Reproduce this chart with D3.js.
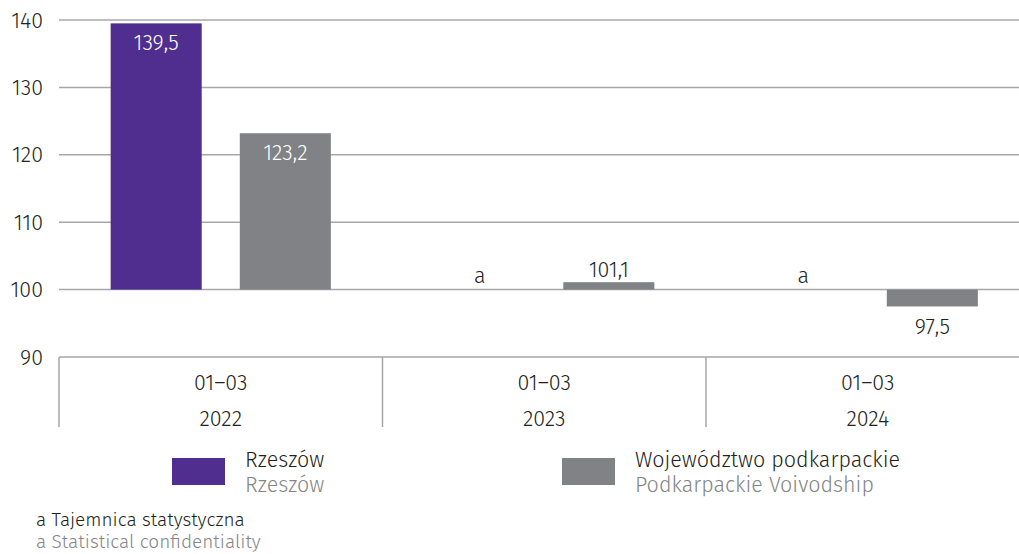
<!DOCTYPE html>
<html>
<head>
  <meta charset="utf-8">
  <script src="https://d3js.org/d3.v7.min.js"></script>
  <style>
    body { margin: 0; background: #fff; }
    svg text { font-family: "Fira Sans", Roboto, "Noto Sans", sans-serif; font-weight: 300; }
  </style>
</head>
<body>
  <script>
    const categories = ["2022", "2023", "2024"];
    const periods = ["01–03", "01–03", "01–03"];
    const seriesKeys = ["rzeszow", "podkarpackie"];
    const seriesNames = ["Rzeszów", "Województwo podkarpackie"];
    const seriesNamesEn = ["Rzeszów", "Podkarpackie Voivodship"];
    const rzeszow = [139.5, null, null];
    const podkarpackie = [123.2, 101.1, 97.5];
    const yTicks = [90, 100, 110, 120, 130, 140];
    const footnotePl = "a Tajemnica statystyczna";
    const footnoteEn = "a Statistical confidentiality";

    const colors = { rzeszow: "#502e8f", podkarpackie: "#808285" };
    const dark = "#231f20";
    const light = "#858585";
    const gridColor = "#a7a7a9";

    const width = 1019, height = 554;
    const baseValue = 100;
    const fs = "21.5px";

    const svg = d3.select("body").append("svg")
      .attr("width", width)
      .attr("height", height);

    const y = d3.scaleLinear().domain([90, 140]).range([357, 20]);
    const x0 = d3.scaleBand().domain(categories).range([59, 1029.5]).padding(0);
    const x1 = d3.scaleBand().domain(seriesKeys).range([0, x0.bandwidth()])
      .paddingInner(0.295).paddingOuter(0.4);

    // gridlines
    svg.append("g").selectAll("line")
      .data(yTicks.filter(d => d > 90))
      .join("line")
      .attr("x1", 59).attr("x2", width)
      .attr("y1", d => y(d)).attr("y2", d => y(d))
      .attr("stroke", gridColor).attr("stroke-width", 1.5);

    // y labels
    svg.append("g").selectAll("text")
      .data(yTicks)
      .join("text")
      .attr("x", 43).attr("y", d => y(d))
      .attr("dy", "0.35em")
      .attr("text-anchor", "end")
      .attr("fill", dark)
      .style("font-size", fs)
      .text(d => d);

    // bars
    const rows = categories.map((c, i) => ({
      cat: c,
      values: [
        { key: "rzeszow", value: rzeszow[i] },
        { key: "podkarpackie", value: podkarpackie[i] }
      ]
    }));

    const fmt = v => d3.format(".1f")(v).replace(".", ",");

    const group = svg.append("g").selectAll("g")
      .data(rows)
      .join("g")
      .attr("transform", d => `translate(${x0(d.cat)},0)`);

    group.selectAll("rect")
      .data(d => d.values.filter(v => v.value !== null))
      .join("rect")
      .attr("x", d => x1(d.key))
      .attr("width", x1.bandwidth())
      .attr("y", d => y(Math.max(d.value, baseValue)))
      .attr("height", d => Math.abs(y(d.value) - y(baseValue)))
      .attr("fill", d => colors[d.key]);

    group.selectAll("text")
      .data(d => d.values)
      .join("text")
      .attr("x", d => x1(d.key) + x1.bandwidth() / 2)
      .attr("text-anchor", "middle")
      .attr("dy", "0.35em")
      .style("font-size", fs)
      .attr("y", d => {
        if (d.value === null) return y(baseValue) - 14;
        const h = Math.abs(y(d.value) - y(baseValue));
        if (h > 30) return y(d.value) + 19;
        return d.value >= baseValue ? y(d.value) - 13 : y(d.value) + 20;
      })
      .attr("fill", d => {
        if (d.value === null) return dark;
        const h = Math.abs(y(d.value) - y(baseValue));
        return h > 30 ? "#fff" : dark;
      })
      .text(d => d.value === null ? "a" : fmt(d.value));

    // x axis base line and separators
    const axisY = y(90);
    svg.append("line")
      .attr("x1", 59).attr("x2", width)
      .attr("y1", axisY).attr("y2", axisY)
      .attr("stroke", gridColor).attr("stroke-width", 1.5);

    svg.append("g").selectAll("line")
      .data(categories)
      .join("line")
      .attr("x1", d => x0(d)).attr("x2", d => x0(d))
      .attr("y1", axisY).attr("y2", axisY + 70)
      .attr("stroke", gridColor).attr("stroke-width", 1.5);

    const xLab = svg.append("g").selectAll("g")
      .data(categories)
      .join("g")
      .attr("transform", d => `translate(${x0(d) + x0.bandwidth() / 2},0)`);

    xLab.append("text")
      .attr("y", axisY + 25).attr("dy", "0.35em")
      .attr("text-anchor", "middle")
      .attr("fill", dark)
      .style("font-size", fs)
      .text((d, i) => periods[i]);

    xLab.append("text")
      .attr("y", axisY + 61).attr("dy", "0.35em")
      .attr("text-anchor", "middle")
      .attr("fill", dark)
      .style("font-size", fs)
      .text(d => d);

    // legend
    const legendX = [172, 562];
    const legend = svg.append("g").selectAll("g")
      .data(seriesKeys)
      .join("g")
      .attr("transform", (d, i) => `translate(${legendX[i]},458)`);

    legend.append("rect")
      .attr("width", 53).attr("height", 27)
      .attr("fill", d => colors[d]);

    legend.append("text")
      .attr("x", 73).attr("y", 1).attr("dy", "0.35em")
      .attr("fill", dark)
      .style("font-size", "21.5px")
      .text((d, i) => seriesNames[i]);

    legend.append("text")
      .attr("x", 73).attr("y", 26).attr("dy", "0.35em")
      .attr("fill", light)
      .style("font-size", "21.5px")
      .text((d, i) => seriesNamesEn[i]);

    // footnote
    svg.append("text")
      .attr("x", 36).attr("y", 519).attr("dy", "0.35em")
      .attr("fill", dark)
      .style("font-size", "19px")
      .text(footnotePl);

    svg.append("text")
      .attr("x", 36).attr("y", 541).attr("dy", "0.35em")
      .attr("fill", light)
      .style("font-size", "19px")
      .text(footnoteEn);
  </script>
</body>
</html>
